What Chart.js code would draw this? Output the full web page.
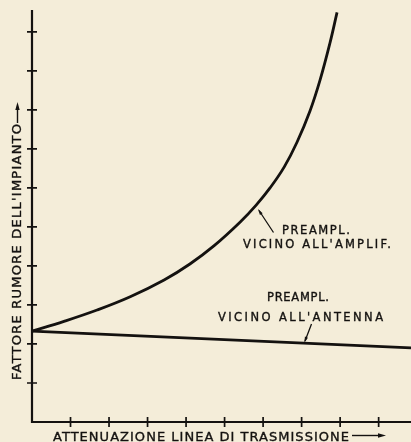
<!DOCTYPE html>
<html>
<head>
<meta charset="utf-8">
<script src="https://cdn.jsdelivr.net/npm/chart.js@4/dist/chart.umd.min.js"></script>
<style>
  html, body { margin: 0; padding: 0; background: #f4edd9; }
  #wrap { width: 411px; height: 442px; }
</style>
</head>
<body>
<div id="wrap"><canvas id="noise"></canvas></div>
<script>
// Noise factor vs. transmission-line attenuation, two preamp placements.
const INK = '#141210';
const PAPER = '#f4edd9';
const FONT = "'DejaVu Sans', Verdana, sans-serif";

// preamp next to the amplifier: grows steeply with line loss
const ampAtten = [0, 0.83, 1.69, 2.55, 3.43, 4.1, 4.73, 5.4, 5.82, 6.18, 6.55, 6.88, 7.22, 7.48, 7.74, 7.92];
const ampNoise = [2.33, 2.58, 2.87, 3.21, 3.64, 4.05, 4.52, 5.12, 5.56, 6.0, 6.54, 7.17, 7.98, 8.77, 9.73, 10.5];
// preamp next to the antenna: almost flat
const antAtten = [0, 9.84];
const antNoise = [2.33, 1.9];

const xTicks = [1, 2, 3, 4, 5, 6, 7, 8, 9];
const yTicks = [1, 2, 3, 4, 5, 6, 7, 8, 9, 10];

const xTitle = 'ATTENUAZIONE LINEA DI TRASMISSIONE';
const yTitle = 'FATTORE RUMORE DELL\'IMPIANTO';
const ampLabel = ['PREAMPL.', 'VICINO ALL\'AMPLIF.'];
const antLabel = ['PREAMPL.', 'VICINO ALL\'ANTENNA'];

const pts = (xs, ys) => xs.map((x, i) => ({ x, y: ys[i] }));

// text squeezed or stretched with letter spacing to cover a given width
function spread(ctx, text, x, y, width, align) {
  ctx.letterSpacing = '0px';
  const w0 = ctx.measureText(text).width;
  const ls = (width - w0) / Math.max(1, text.length - 1);
  ctx.letterSpacing = ls + 'px';
  const left = align === 'center' ? x - width / 2 : x;
  ctx.textAlign = 'left';
  ctx.fillText(text, left, y);
  ctx.lineWidth = 0.35;
  ctx.strokeText(text, left, y);
  ctx.letterSpacing = '0px';
}

function arrowHead(ctx, x, y, ang, len, half) {
  ctx.beginPath();
  ctx.moveTo(x, y);
  ctx.lineTo(x - len * Math.cos(ang) + half * Math.sin(ang), y - len * Math.sin(ang) - half * Math.cos(ang));
  ctx.lineTo(x - len * Math.cos(ang) - half * Math.sin(ang), y - len * Math.sin(ang) + half * Math.cos(ang));
  ctx.closePath();
  ctx.fill();
}

const paper = {
  id: 'paper',
  beforeDraw(chart) {
    const { ctx, width, height } = chart;
    ctx.save();
    ctx.fillStyle = PAPER;
    ctx.fillRect(0, 0, width, height);
    ctx.restore();
  },
};

// hand-drafted axes: plain lines with ticks crossing them, arrowed titles
const axes = {
  id: 'axes',
  beforeDatasetsDraw(chart) {
    const { ctx, chartArea: a, scales: { x, y } } = chart;
    const x0 = x.getPixelForValue(0);
    const y0 = y.getPixelForValue(0);
    ctx.save();
    ctx.strokeStyle = INK;
    ctx.lineWidth = 2.2;
    ctx.lineCap = 'butt';
    ctx.beginPath();
    ctx.moveTo(x0, a.top);
    ctx.lineTo(x0, y0);
    ctx.lineTo(a.right, y0);
    ctx.stroke();

    ctx.lineWidth = 1.7;
    ctx.beginPath();
    yTicks.forEach((v) => {
      const p = y.getPixelForValue(v);
      ctx.moveTo(x0 - 5, p);
      ctx.lineTo(x0 + 5, p);
    });
    xTicks.forEach((v) => {
      const p = x.getPixelForValue(v);
      ctx.moveTo(p, y0 - 5);
      ctx.lineTo(p, y0 + 5);
    });
    ctx.stroke();

    ctx.fillStyle = INK;
    ctx.font = `13px ${FONT}`;
    ctx.textBaseline = 'alphabetic';

    // x title + arrow
    spread(ctx, xTitle, 53, 441, 296, 'left');
    ctx.lineWidth = 1.4;
    ctx.beginPath();
    ctx.moveTo(352, 435.5);
    ctx.lineTo(380, 435.5);
    ctx.stroke();
    arrowHead(ctx, 386, 435.5, 0, 8, 2.2);

    // y title + arrow, reading upward
    ctx.save();
    ctx.translate(21, 380);
    ctx.rotate(-Math.PI / 2);
    spread(ctx, yTitle, 0, 0, 256, 'left');
    ctx.restore();
    ctx.lineWidth = 1.4;
    ctx.beginPath();
    ctx.moveTo(17.5, 123);
    ctx.lineTo(17.5, 108);
    ctx.stroke();
    arrowHead(ctx, 17.5, 102, -Math.PI / 2, 8, 2.2);
    ctx.restore();
  },
  afterDatasetsDraw(chart) {
    const { ctx } = chart;
    ctx.save();
    ctx.fillStyle = INK;
    ctx.strokeStyle = INK;
    ctx.font = `11.5px ${FONT}`;
    ctx.textBaseline = 'alphabetic';

    spread(ctx, ampLabel[0], 316, 233.5, 68, 'center');
    spread(ctx, ampLabel[1], 317, 247.5, 148, 'center');
    spread(ctx, antLabel[0], 298, 300.5, 62, 'center');
    spread(ctx, antLabel[1], 300.5, 320.5, 165, 'center');

    // leaders to the curves
    ctx.lineWidth = 1.3;
    ctx.beginPath();
    ctx.moveTo(273.5, 232.5);
    ctx.lineTo(259, 210.5);
    ctx.moveTo(311.5, 324);
    ctx.lineTo(305, 341);
    ctx.stroke();
    arrowHead(ctx, 258, 209, Math.atan2(-23.5, -15.5), 6, 1.6);
    arrowHead(ctx, 304.3, 342.8, Math.atan2(18.8, -7.2), 6, 1.6);
    ctx.restore();
  },
};

new Chart(document.getElementById('noise'), {
  type: 'scatter',
  data: {
    datasets: [
      {
        label: 'Preampl. vicino all\'amplif.',
        data: pts(ampAtten, ampNoise),
        showLine: true,
        borderColor: INK,
        borderWidth: 2.8,
        pointRadius: 0,
        tension: 0.4,
        clip: false,
      },
      {
        label: 'Preampl. vicino all\'antenna',
        data: pts(antAtten, antNoise),
        showLine: true,
        borderColor: INK,
        borderWidth: 2.8,
        pointRadius: 0,
        clip: false,
      },
    ],
  },
  options: {
    responsive: true,
    maintainAspectRatio: false,
    animation: false,
    layout: { padding: { left: 32, right: 0, top: 10, bottom: 20 } },
    scales: {
      x: { type: 'linear', min: 0, max: 9.84, display: false },
      y: { type: 'linear', min: 0, max: 10.56, display: false },
    },
    plugins: { legend: { display: false }, tooltip: { enabled: false } },
  },
  plugins: [paper, axes],
});
</script>
</body>
</html>
